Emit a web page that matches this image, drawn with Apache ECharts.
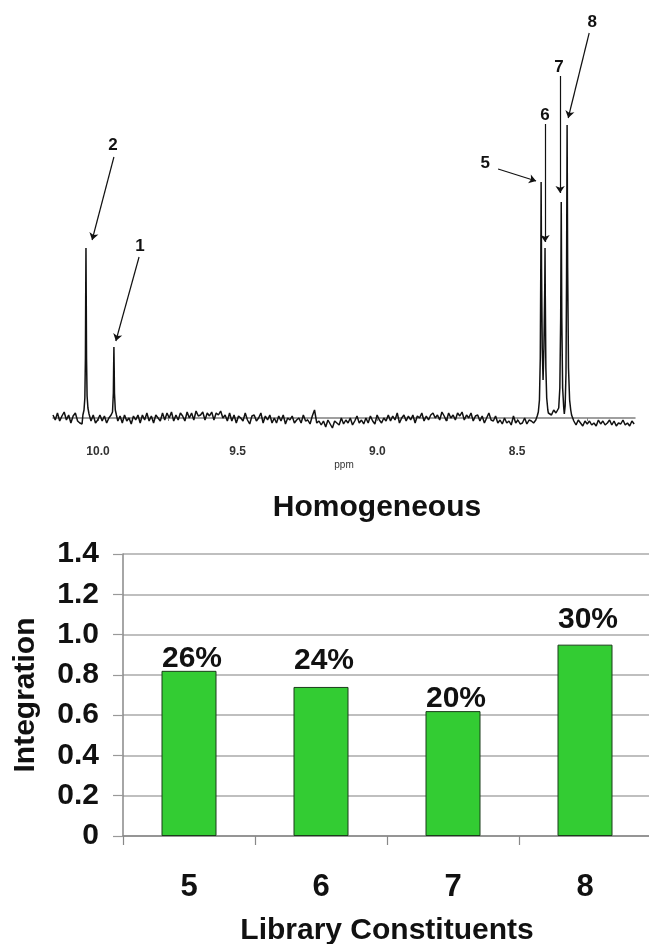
<!DOCTYPE html>
<html><head><meta charset="utf-8">
<script src="https://cdn.jsdelivr.net/npm/echarts@6/dist/echarts.min.js"></script>
<style>html,body{margin:0;padding:0;background:#fff}#c{width:649px;height:944px}</style>
</head><body><div id="c"></div>
<script>
// ===== Top: 1H NMR spectrum (ppm axis, intensity in arbitrary units) =====
const ppmMax = 10.161, ppmMin = 8.078;
const ppmTickLabels = [10.0, 9.5, 9.0, 8.5];
const ppmTicks = [10.0, 9.75, 9.5, 9.25, 9.0, 8.75, 8.5, 8.25];
// baseline samples, starting at 10.161 ppm, every 0.008 ppm
const baseStart = 10.161, baseStep = 0.008;
const baseline = [
 3,-2,5,-3,2,6,-2,3,-5,2,
 5,-3,-5,-6,0,0,0,-3,3,-5,
 -2,3,-3,2,-5,0,3,0,0,-3,
 2,-5,3,-3,0,-6,2,-2,3,-5,
 3,-2,5,-3,2,-5,3,0,-3,5,
 -2,5,0,6,-3,3,-2,5,2,-3,
 6,0,5,-2,7,2,3,6,-2,5,
 2,6,-2,5,3,7,0,3,-3,5,
 -3,3,-5,2,0,-3,5,-2,-6,2,
 3,-3,0,5,-5,2,-2,3,-5,0,
 -5,2,-3,3,-6,0,-2,2,-5,-2,
 0,-5,3,-3,-2,-6,2,8,-5,-3,
 -7,-3,-9,-2,-6,-10,-3,-5,-7,0,
 -6,-2,-5,0,-7,-3,2,-5,-2,-6,
 0,-5,2,-3,-6,3,-2,-5,0,-3,
 3,-3,2,-2,5,-5,0,3,-3,2,
 -2,3,-5,2,0,5,-3,2,-2,3,
 5,0,3,-2,6,2,-3,5,0,3,
 -2,5,2,6,-2,3,0,5,-3,2,
 3,-3,2,-5,0,5,-2,-3,2,-5,
 -2,-6,0,-5,-3,-7,2,-5,-2,-6,
 -5,0,-6,-2,-3,-5,-2,0,0,0,
 0,0,6,3,8,5,0,0,0,0,
 0,0,0,-3,-7,-2,-5,-8,-3,-6,
 -3,-7,-5,-8,-2,-6,-3,-7,-5,-2,
 -7,-3,-8,-5,-6,-2,-7,-5,-8,-3,-6
];
// peak profiles [ppm, intensity]
const peak2 = [[10.054,3],[10.050,8],[10.047,20],[10.045,60],[10.044,120],[10.043,170],[10.042,120],[10.041,60],[10.039,22],[10.036,10],[10.032,4]];
const peak1 = [[9.952,2],[9.948,6],[9.945,25],[9.944,50],[9.943,71],[9.942,50],[9.941,25],[9.938,8],[9.934,3]];
const peaks56 = [[8.428,2],[8.424,6],[8.420,18],[8.417,60],[8.415,160],[8.414,236],[8.4125,150],[8.410,70],[8.407,38],[8.404,70],[8.401,130],[8.400,170],[8.399,120],[8.397,50],[8.394,20],[8.390,8],[8.388,5]];
const peaks78 = [[8.356,4],[8.351,10],[8.347,30],[8.344,100],[8.342,216],[8.340,100],[8.337,30],[8.333,10],[8.331,4],[8.328,12],[8.325,45],[8.323,140],[8.321,293],[8.319,150],[8.316,50],[8.312,18],[8.308,8],[8.305,3]];
// peak annotations
const peakNames = ['2','1','5','6','7','8'];
const peakNamePos = [[9.946,273],[9.850,172],[8.614,255],[8.400,303],[8.350,351],[8.231,396]];
const arrowFrom = [[9.943,261],[9.853,161],[8.568,249],[8.400,294],[8.346,342],[8.242,385]];
const arrowTo   = [[10.021,178],[9.936,77],[8.432,237],[8.400,176],[8.346,225],[8.317,300]];

// ===== Bottom: integration bar chart =====
const constituents = ['5','6','7','8'];
const integration = [0.82, 0.74, 0.62, 0.95];
const sharePct = [26, 24, 20, 30];
const yTickLabels = ['0','0.2','0.4','0.6','0.8','1.0','1.2','1.4'];

// ---- build spectrum line from arrays ----
const peakSets = [peak2, peak1, peaks56, peaks78];
const windows = peakSets.map(p => [Math.min(...p.map(d=>d[0])), Math.max(...p.map(d=>d[0]))]);
let spec = [];
baseline.forEach((v, i) => {
  const x = +(baseStart - i * baseStep).toFixed(4);
  if (!windows.some(w => x >= w[0] - 0.0005 && x <= w[1] + 0.0005)) spec.push([x, v]);
});
peakSets.forEach(p => p.forEach(d => spec.push(d)));
spec.sort((a, b) => b[0] - a[0]);

const FONT = 'Liberation Sans, Arial, Helvetica, sans-serif';
const labelLift = [0, 14, 0, 13];

const chart = echarts.init(document.getElementById('c'), null, {renderer: 'canvas'});
chart.setOption({
  animation: false,
  backgroundColor: '#fff',
  textStyle: {fontFamily: FONT},
  title: {
    text: 'Homogeneous', left: 377, top: 493, padding: 0, textAlign: 'center',
    textStyle: {fontSize: 30, fontWeight: 'bold', color: '#111', fontFamily: FONT}
  },
  grid: [
    {left: 53, right: 14, top: 18, height: 420, outerBoundsMode: 'none', containLabel: false},
    {left: 123, top: 554, width: 528, height: 282, outerBoundsMode: 'none', containLabel: false}
  ],
  xAxis: [
    {
      type: 'value', gridIndex: 0, inverse: true, min: ppmMin, max: ppmMax,
      splitLine: {show: false},
      axisLine: {show: true, lineStyle: {color: '#808080', width: 1.5}},
      axisTick: {show: true, length: 3, customValues: ppmTicks, lineStyle: {color: '#808080'}},
      axisLabel: {customValues: ppmTickLabels, formatter: v => v.toFixed(1), fontSize: 12, fontWeight: 'bold', color: '#333', margin: 8, fontFamily: FONT},
      name: 'ppm', nameLocation: 'middle', nameGap: 22,
      nameTextStyle: {fontSize: 10, color: '#333', fontFamily: FONT}
    },
    {
      type: 'category', gridIndex: 1, data: constituents,
      axisLine: {show: true, lineStyle: {color: '#888', width: 1.5}},
      axisTick: {show: true, length: 9, alignWithLabel: false, lineStyle: {color: '#888', width: 1.2}},
      axisLabel: {fontSize: 31, fontWeight: 'bold', color: '#111', margin: 36, fontFamily: FONT},
      name: 'Library Constituents', nameLocation: 'middle', nameGap: 80,
      nameTextStyle: {fontSize: 30, fontWeight: 'bold', color: '#111', fontFamily: FONT}
    }
  ],
  yAxis: [
    {type: 'value', gridIndex: 0, min: -20, max: 400, show: false},
    {
      type: 'value', gridIndex: 1, min: 0, max: 1.4, interval: 0.2,
      axisLine: {show: true, lineStyle: {color: '#888', width: 1.5}},
      axisTick: {show: true, length: 10, lineStyle: {color: '#999', width: 1.2}},
      splitLine: {show: true, lineStyle: {color: '#aaa', width: 1.5}},
      axisLabel: {formatter: (v) => yTickLabels[Math.round(v / 0.2)], fontSize: 30, fontWeight: 'bold', color: '#111', margin: 24, fontFamily: FONT},
      name: 'Integration', nameLocation: 'middle', nameGap: 82, nameRotate: 90,
      nameTextStyle: {fontSize: 30, fontWeight: 'bold', color: '#111', fontFamily: FONT}
    }
  ],
  series: [
    {
      type: 'line', xAxisIndex: 0, yAxisIndex: 0, data: spec, showSymbol: false, symbol: 'none',
      lineStyle: {color: '#111', width: 1.5}, silent: true,
      markLine: {
        silent: true, symbol: ['none', 'arrow'], symbolSize: 7,
        label: {show: false},
        lineStyle: {color: '#111', width: 1.2, type: 'solid'},
        data: arrowFrom.map((f, i) => [{coord: f}, {coord: arrowTo[i]}])
      }
    },
    {
      type: 'scatter', xAxisIndex: 0, yAxisIndex: 0, symbolSize: 0, silent: true, clip: false,
      itemStyle: {opacity: 1},
      data: peakNamePos.map((p, i) => ({value: p, name: peakNames[i]})),
      label: {show: true, position: 'inside', formatter: p => p.name, fontSize: 17, fontWeight: 'bold', color: '#111', fontFamily: FONT}
    },
    {
      type: 'bar', xAxisIndex: 1, yAxisIndex: 1, barWidth: 55,
      data: integration.map((v, i) => ({value: v, label: {distance: labelLift[i]}})),
      itemStyle: {color: '#33cc33', borderColor: '#1b3d1b', borderWidth: 1},
      label: {show: true, position: 'top', offset: [3, 3], formatter: p => sharePct[p.dataIndex] + '%', fontSize: 30, fontWeight: 'bold', color: '#111', fontFamily: FONT}
    }
  ]
});
</script></body></html>
